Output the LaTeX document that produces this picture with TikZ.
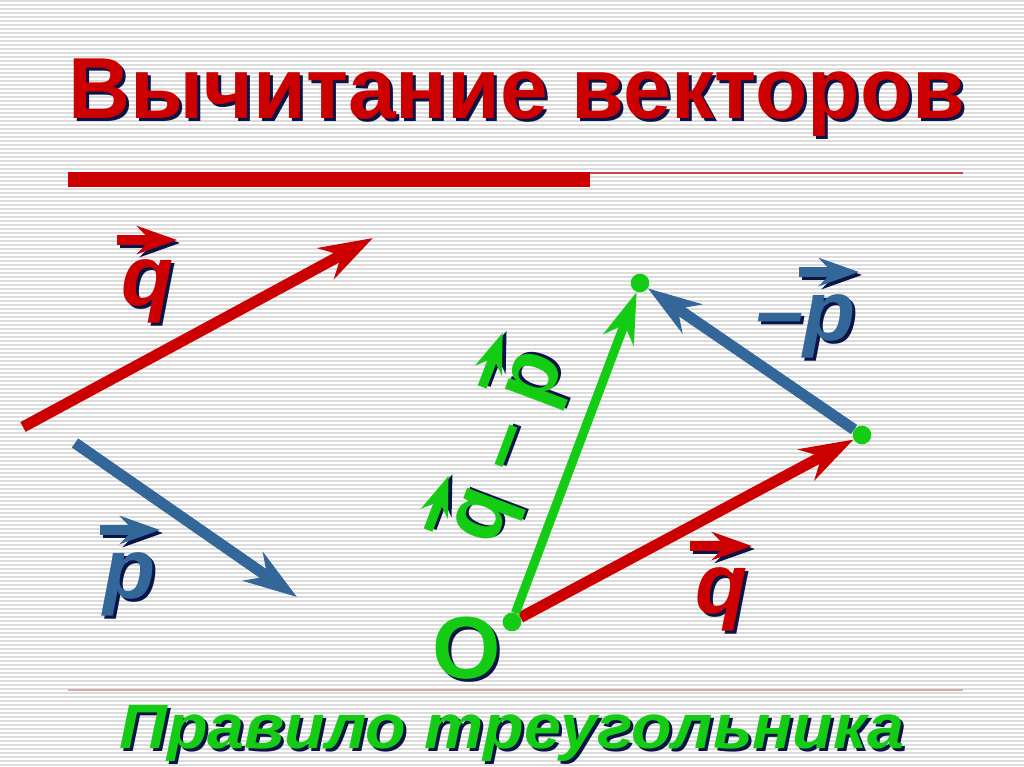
\documentclass[tikz,border=0pt]{standalone}
\usepackage{fontspec}
\setmainfont{Liberation Sans}
\usetikzlibrary{arrows.meta}
\definecolor{vred}{RGB}{204,0,0}
\definecolor{vblue}{RGB}{51,102,153}
\definecolor{vgreen}{RGB}{20,204,20}
\definecolor{shadowcol}{RGB}{10,20,70}
\definecolor{bgl}{RGB}{220,220,220}
\definecolor{pinkline}{RGB}{215,170,170}
\definecolor{redthin}{RGB}{200,70,70}
\tikzset{
  bgline/.style={bgl, line width=1.1pt},
  vec/.style={line width=8.3pt, -{Stealth[length=40pt,width=26pt,inset=13pt]}},
  gvec/.style={line width=6.8pt, -{Stealth[length=38pt,width=24pt,inset=12pt]}},
  labarrow/.style={line width=7pt, -{Stealth[length=30pt,width=21pt,inset=10pt]}},
  dotnode/.style={circle, fill=vgreen, minimum size=14pt, inner sep=0pt},
  titletext/.style={font=\bfseries\fontsize{65}{70}\selectfont, inner sep=0pt, anchor=base west, xscale=0.99},
  subtext/.style={font=\bfseries\itshape\fontsize{47}{50}\selectfont, inner sep=0pt, anchor=base west, xscale=1.06},
  lettertext/.style={font=\bfseries\itshape\fontsize{64}{70}\selectfont, inner sep=0pt, anchor=base},
  uprighttext/.style={font=\bfseries\fontsize{64}{70}\selectfont, inner sep=0pt, anchor=base},
}
\newcommand\vecmark[3]{%
  \draw[labarrow, shadowcol, shift={(3,3)}] (#2) -- (#3);
  \draw[labarrow, #1] (#2) -- (#3);}
\begin{document}
\begin{tikzpicture}[x=0.75pt,y=-0.75pt]
\useasboundingbox (0,0) rectangle (1024,767);
\fill[white] (0,0) rectangle (1024,767);
\foreach \yy in {1,5,...,765} \draw[bgline] (0,\yy) -- (1024,\yy);

% title
\node[titletext, shadowcol] (titleshadow) at (71,121) {Вычитание векторов};
\node[titletext, vred] (title) at (68,118) {Вычитание векторов};
\fill[vred] (68,172) rectangle (590,187);
\draw[redthin, line width=1.2pt] (590,173) -- (963,173);
\draw[pinkline, line width=1.2pt] (68,690) -- (963,690);

% bottom caption
\node[subtext, shadowcol] (capshadow) at (122,751) {Правило треугольника};
\node[subtext, vgreen] (caption) at (119,748) {Правило треугольника};

% left vectors
\coordinate (qs) at (23,427);
\coordinate (qe) at (373,238);
\coordinate (ps) at (75,443);
\coordinate (pe) at (297,597);
\draw[vec, vred] (qs) -- (qe);
\draw[vec, vblue] (ps) -- (pe);

% left labels
\vecmark{vred}{117,240}{177,240}
\node[lettertext, shadowcol] (lq1s) at (151,308) {q};
\node[lettertext, vred] (lq1) at (148,305) {q};
\vecmark{vblue}{100,530}{160,530}
\node[lettertext, shadowcol] (lp1s) at (133,601) {p};
\node[lettertext, vblue] (lp1) at (130,598) {p};

% triangle
\node[dotnode] (O) at (512,622) {};
\node[dotnode] (T) at (640,283) {};
\node[dotnode] (R) at (862,435) {};
\draw[vec, vred] (O) -- (R);
\draw[vec, vblue] (R) -- (T);
\draw[gvec, vgreen] (O) -- (T);

% O label
\node[uprighttext, font=\bfseries\fontsize{66}{70}\selectfont, anchor=center, shadowcol] (Olabs) at (470,651) {O};
\node[uprighttext, font=\bfseries\fontsize{66}{70}\selectfont, anchor=center, vgreen] (Olab) at (467,648) {O};

% -p label
\vecmark{vblue}{799,272}{859,272}
\node[lettertext, anchor=base west, shadowcol] (mps) at (759,343) {–p};
\node[lettertext, anchor=base west, vblue] (mp) at (756,340) {–p};

% q label bottom right
\vecmark{vred}{690,546}{752,546}
\node[lettertext, shadowcol] (lq2s) at (725,616) {q};
\node[lettertext, vred] (lq2) at (722,613) {q};

% rotated q - p label
\begin{scope}[shift={(510,452)}, rotate=69.3, transform shape]
  \vecmark{vgreen}{-102,-49}{-44,-49}
  \vecmark{vgreen}{51,-49}{109,-49}
  \node[uprighttext, shadowcol] (qmps) at (7,21) {q – p};
  \node[uprighttext, vgreen] (qmp) at (4,18) {q – p};
\end{scope}
\end{tikzpicture}
\end{document}
